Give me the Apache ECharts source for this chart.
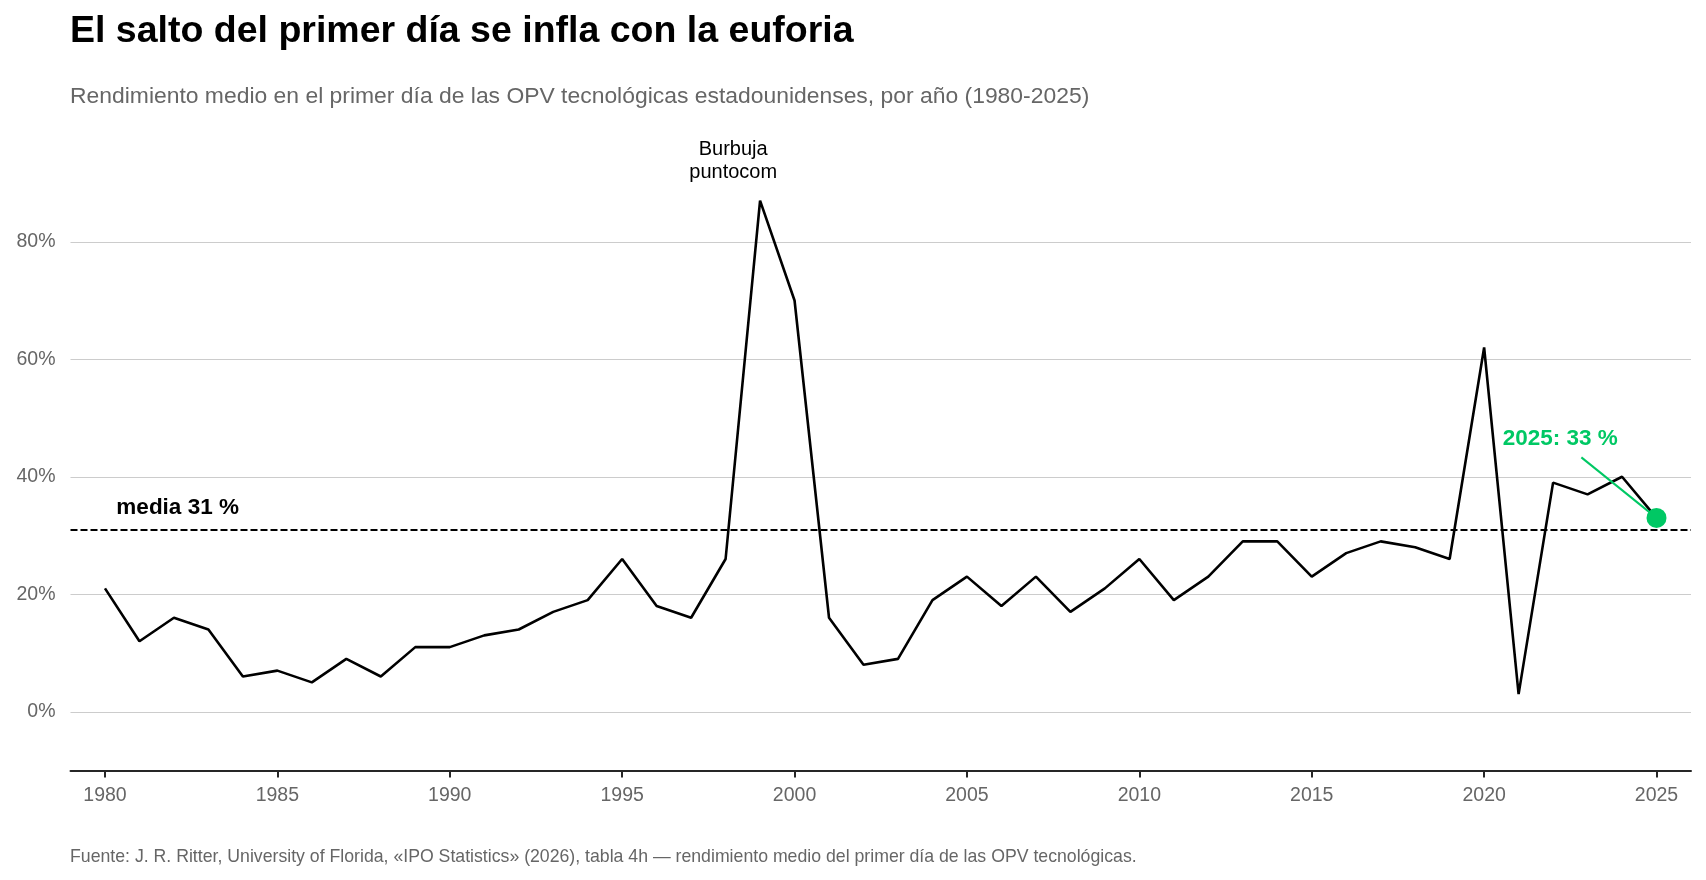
<!DOCTYPE html>
<html>
<head>
<meta charset="utf-8">
<script src="https://cdn.jsdelivr.net/npm/echarts@6/dist/echarts.min.js"></script>
<style>
  html, body { margin: 0; padding: 0; background: #fff; }
  #chart { width: 1706px; height: 880px; }
</style>
</head>
<body>
<div id="chart"></div>
<script>
const years = [1980,1981,1982,1983,1984,1985,1986,1987,1988,1989,
               1990,1991,1992,1993,1994,1995,1996,1997,1998,1999,
               2000,2001,2002,2003,2004,2005,2006,2007,2008,2009,
               2010,2011,2012,2013,2014,2015,2016,2017,2018,2019,
               2020,2021,2022,2023,2024,2025];
const firstDayReturn = [21,12,16,14,6,7,5,9,6,11,
                        11,13,14,17,19,26,18,16,26,87,
                        70,16,8,9,19,23,18,23,17,21,
                        26,19,23,29,29,23,27,29,28,26,
                        62,3,39,37,40,33];
const meanValue = 31;
const xTickLabels = [1980,1985,1990,1995,2000,2005,2010,2015,2020,2025];
const yTickLabels = [0,20,40,60,80];

const titleText = 'El salto del primer día se infla con la euforia';
const subtitleText = 'Rendimiento medio en el primer día de las OPV tecnológicas estadounidenses, por año (1980-2025)';
const sourceText = 'Fuente: J. R. Ritter, University of Florida, «IPO Statistics» (2026), tabla 4h — rendimiento medio del primer día de las OPV tecnológicas.';
const bubbleText = 'Burbuja\npuntocom';
const meanText = 'media ' + meanValue + ' %';
const lastYear = years[years.length - 1];
const lastValue = firstDayReturn[firstDayReturn.length - 1];
const lastText = lastYear + ': ' + lastValue + ' %';

const FONT = '"Liberation Sans", Arial, Helvetica, sans-serif';
const GREEN = '#00c864';

const chart = echarts.init(document.getElementById('chart'), null, { renderer: 'canvas' });

const option = {
  backgroundColor: '#ffffff',
  animation: false,
  title: [
    { text: titleText, left: 70, top: 13, padding: 0,
      textStyle: { fontFamily: FONT, fontSize: 37.5, fontWeight: 'bold', color: '#000' } },
    { text: subtitleText, left: 70, top: 85, padding: 0,
      textStyle: { fontFamily: FONT, fontSize: 22.9, fontWeight: 'normal', color: '#666' } },
    { text: sourceText, left: 70, top: 848, padding: 0,
      textStyle: { fontFamily: FONT, fontSize: 17.7, fontWeight: 'normal', color: '#666' } }
  ],
  grid: { left: 70.5, right: 15, top: 183, bottom: 109.5, containLabel: false },
  xAxis: {
    type: 'value', min: 1979, max: 2026,
    axisLine: { show: true, onZero: false, lineStyle: { color: '#262626', width: 2 } },
    axisTick: { show: true, length: 7, lineStyle: { color: '#262626', width: 2 }, customValues: xTickLabels },
    axisLabel: { customValues: xTickLabels, fontFamily: FONT, fontSize: 19.5, color: '#666', margin: 15,
                 formatter: v => String(v) },
    splitLine: { show: false }
  },
  yAxis: {
    type: 'value', min: -10, max: 90,
    axisLine: { show: false },
    axisTick: { show: false, customValues: yTickLabels },
    axisLabel: { customValues: yTickLabels, fontFamily: FONT, fontSize: 19.5, color: '#666', margin: 15,
                 formatter: v => v + '%' },
    splitLine: { show: true, lineStyle: { color: '#cccccc', width: 1.2 } }
  },
  series: [
    {
      type: 'line',
      data: years.map((y, i) => [y, firstDayReturn[i]]),
      symbol: 'none',
      lineStyle: { color: '#000', width: 2.6 },
      z: 3,
      markLine: {
        silent: true, symbol: 'none',
        label: { show: false },
        lineStyle: { color: '#000', width: 1.8, type: [7, 3] },
        data: [{ yAxis: meanValue }]
      },
      markPoint: {
        silent: true, symbol: 'circle', symbolSize: 0,
        data: [
          { coord: [1998.22, 87], value: 0,
            label: { show: true, position: 'inside', formatter: bubbleText, offset: [0, -39.5],
                     fontFamily: FONT, fontSize: 20, lineHeight: 23, color: '#000', align: 'center', verticalAlign: 'middle' } },
          { coord: [1980.33, 34.77], value: 0,
            label: { show: true, position: 'inside', formatter: meanText,
                     fontFamily: FONT, fontSize: 22.5, fontWeight: 'bold', color: '#000', align: 'left', verticalAlign: 'middle' } },
          { coord: [2022.21, 46.4], value: 0,
            label: { show: true, position: 'inside', formatter: lastText,
                     fontFamily: FONT, fontSize: 22.5, fontWeight: 'bold', color: GREEN, align: 'center', verticalAlign: 'middle' } }
        ]
      }
    },
    {
      type: 'line',
      data: [[2022.82, 43.3], [lastYear, lastValue]],
      symbol: 'none',
      lineStyle: { color: GREEN, width: 2 },
      z: 4,
      silent: true
    },
    {
      type: 'scatter',
      data: [[lastYear, lastValue]],
      symbol: 'circle',
      symbolSize: 20,
      itemStyle: { color: GREEN, opacity: 1 },
      z: 5,
      silent: true
    }
  ]
};
chart.setOption(option);
</script>
</body>
</html>
